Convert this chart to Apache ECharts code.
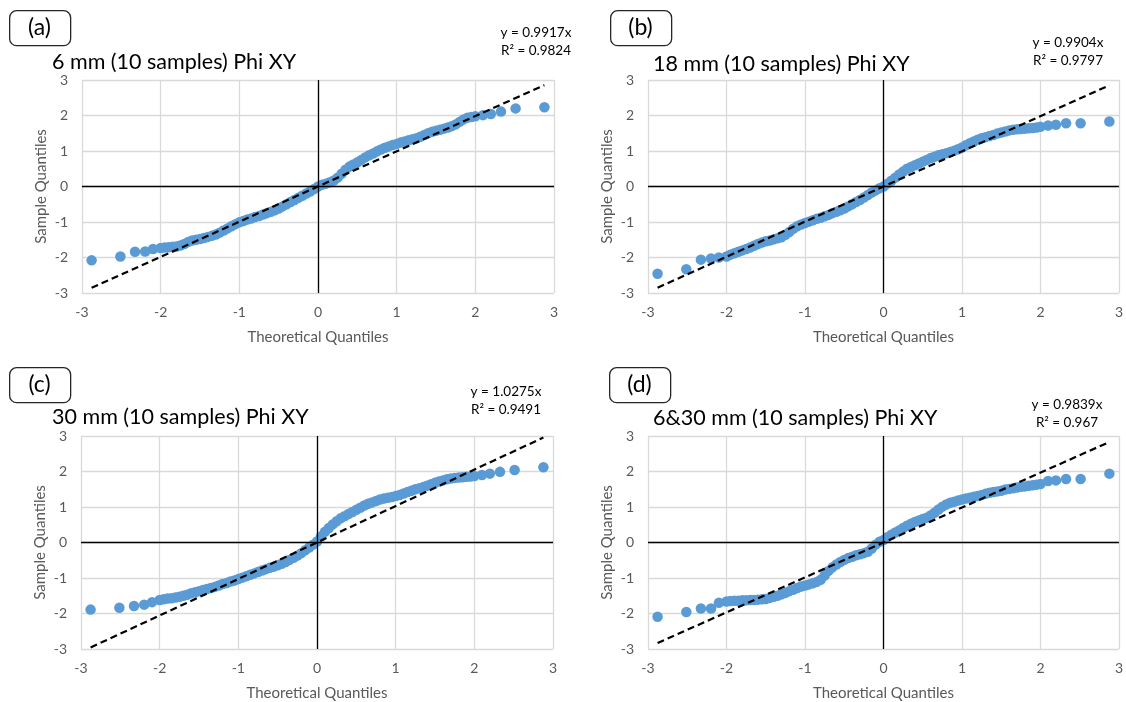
<!DOCTYPE html>
<html>
<head>
<meta charset="utf-8">
<script src="https://cdn.jsdelivr.net/npm/echarts@6/dist/echarts.min.js"></script>
<style>
  html, body { margin: 0; padding: 0; background: #ffffff; }
  #chart { width: 1126px; height: 702px; }
</style>
</head>
<body>
<div id="chart"></div>
<script>
// Theoretical normal quantiles shared by all four Q-Q plots
const theoQ = [-2.878, -2.512, -2.326, -2.197, -2.097,
  -2.00, -1.95, -1.90, -1.85, -1.80, -1.75, -1.70, -1.65, -1.60, -1.55,
  -1.50, -1.45, -1.40, -1.35, -1.30, -1.25, -1.20, -1.15, -1.10, -1.05,
  -1.00, -0.95, -0.90, -0.85, -0.80, -0.75, -0.70, -0.65, -0.60, -0.55,
  -0.50, -0.45, -0.40, -0.35, -0.30, -0.25, -0.20, -0.15, -0.10, -0.05,
  0.00, 0.05, 0.10, 0.15, 0.20, 0.25, 0.30, 0.35, 0.40, 0.45,
  0.50, 0.55, 0.60, 0.65, 0.70, 0.75, 0.80, 0.85, 0.90, 0.95,
  1.00, 1.05, 1.10, 1.15, 1.20, 1.25, 1.30, 1.35, 1.40, 1.45,
  1.50, 1.55, 1.60, 1.65, 1.70, 1.75, 1.80, 1.85, 1.90, 1.95,
  2.00,
  2.097, 2.197, 2.326, 2.512, 2.878];

// Sample quantiles, one list per sample set
const sample6mm = [-2.08, -1.97, -1.84, -1.83, -1.76,
  -1.73, -1.72, -1.71, -1.70, -1.69, -1.66, -1.62, -1.56, -1.52, -1.50,
  -1.48, -1.45, -1.42, -1.39, -1.35, -1.30, -1.24, -1.18, -1.12, -1.06,
  -1.01, -0.97, -0.93, -0.90, -0.86, -0.83, -0.79, -0.75, -0.71, -0.67,
  -0.62, -0.56, -0.50, -0.44, -0.38, -0.32, -0.26, -0.20, -0.14, -0.07,
  0.00, 0.05, 0.08, 0.12, 0.17, 0.25, 0.36, 0.47, 0.56, 0.62,
  0.68, 0.75, 0.82, 0.88, 0.93, 0.99, 1.04, 1.09, 1.13, 1.17,
  1.20, 1.24, 1.27, 1.30, 1.33, 1.36, 1.40, 1.45, 1.50, 1.54,
  1.57, 1.60, 1.63, 1.66, 1.70, 1.75, 1.82, 1.89, 1.94, 1.96,
  1.98,
  2.01, 2.04, 2.11, 2.20, 2.23];

const sample18mm = [-2.46, -2.33, -2.06, -2.03, -2.00,
  -1.97, -1.92, -1.88, -1.84, -1.80, -1.76, -1.72, -1.67, -1.62, -1.58,
  -1.54, -1.52, -1.49, -1.46, -1.43, -1.36, -1.28, -1.19, -1.12, -1.07,
  -1.03, -0.99, -0.95, -0.91, -0.88, -0.84, -0.80, -0.75, -0.71, -0.67,
  -0.62, -0.56, -0.50, -0.44, -0.38, -0.31, -0.24, -0.17, -0.11, -0.05,
  0.00, 0.08, 0.16, 0.25, 0.34, 0.42, 0.50, 0.55, 0.60, 0.65,
  0.70, 0.75, 0.80, 0.84, 0.88, 0.91, 0.94, 0.97, 1.01, 1.05,
  1.10, 1.16, 1.22, 1.27, 1.32, 1.36, 1.39, 1.42, 1.45, 1.49,
  1.52, 1.55, 1.58, 1.60, 1.61, 1.62, 1.63, 1.64, 1.65, 1.66,
  1.68,
  1.72, 1.74, 1.78, 1.78, 1.83];

const sample30mm = [-1.89, -1.84, -1.79, -1.75, -1.68,
  -1.62, -1.60, -1.58, -1.57, -1.55, -1.53, -1.50, -1.47, -1.43, -1.40,
  -1.37, -1.34, -1.31, -1.28, -1.25, -1.21, -1.17, -1.14, -1.10, -1.07,
  -1.03, -0.99, -0.95, -0.91, -0.87, -0.83, -0.79, -0.75, -0.71, -0.68,
  -0.64, -0.60, -0.55, -0.49, -0.43, -0.37, -0.30, -0.22, -0.14, -0.06,
  0.03, 0.17, 0.30, 0.41, 0.51, 0.60, 0.68, 0.74, 0.80, 0.86,
  0.92, 0.98, 1.04, 1.09, 1.13, 1.17, 1.21, 1.24, 1.26, 1.28,
  1.31, 1.34, 1.38, 1.42, 1.46, 1.50, 1.53, 1.56, 1.60, 1.64,
  1.68, 1.72, 1.75, 1.78, 1.80, 1.82, 1.83, 1.84, 1.85, 1.86,
  1.87,
  1.90, 1.94, 1.99, 2.04, 2.12];

const sample6and30mm = [-2.09, -1.96, -1.86, -1.86, -1.70,
  -1.66, -1.65, -1.64, -1.64, -1.63, -1.63, -1.62, -1.62, -1.61, -1.60,
  -1.59, -1.56, -1.53, -1.50, -1.46, -1.42, -1.37, -1.33, -1.28, -1.24,
  -1.21, -1.18, -1.15, -1.11, -1.05, -0.93, -0.80, -0.70, -0.62, -0.55,
  -0.49, -0.44, -0.40, -0.36, -0.33, -0.30, -0.26, -0.17, -0.06, 0.02,
  0.07, 0.15, 0.22, 0.28, 0.34, 0.41, 0.47, 0.53, 0.58, 0.62,
  0.66, 0.70, 0.76, 0.84, 0.93, 1.01, 1.07, 1.12, 1.15, 1.18,
  1.21, 1.24, 1.26, 1.29, 1.31, 1.34, 1.37, 1.40, 1.42, 1.44,
  1.46, 1.49, 1.51, 1.53, 1.55, 1.57, 1.58, 1.60, 1.61, 1.63,
  1.65,
  1.73, 1.75, 1.79, 1.79, 1.94];

const panelTags = ['(a)', '(b)', '(c)', '(d)'];
const panelTitles = ['6 mm (10 samples) Phi XY', '18 mm (10 samples) Phi XY',
  '30 mm (10 samples) Phi XY', '6&30 mm (10 samples) Phi XY'];
const fitSlopes = [0.9917, 0.9904, 1.0275, 0.9839];
const fitR2 = [0.9824, 0.9797, 0.9491, 0.967];
const axisMin = -3, axisMax = 3, axisStep = 1;

const samples = [sample6mm, sample18mm, sample30mm, sample6and30mm];

// Panel layout
const FONT = 'Lato, "Open Sans", sans-serif';
const TEXT_GREY = '#595959';
const grids = [
  { left: 82, top: 80, width: 472, height: 213 },
  { left: 648, top: 80, width: 471, height: 213 },
  { left: 81, top: 436, width: 472, height: 213 },
  { left: 648, top: 436, width: 471, height: 213 }
];
const tagBoxPos = [[9, 10], [610, 10], [9, 367], [609, 367]];
const titlePos = [[52, 62], [653, 64], [52, 417], [653, 418]];
const eqPos = [[536, 33], [1068, 43], [506, 392], [1067, 405]];

const xAxes = [], yAxes = [], series = [], graphics = [];

samples.forEach((ys, i) => {
  xAxes.push({
    type: 'value', gridIndex: i, min: axisMin, max: axisMax, interval: axisStep,
    name: 'Theoretical Quantiles', nameLocation: 'middle', nameGap: 37,
    nameTextStyle: { fontFamily: FONT, fontSize: 15, color: TEXT_GREY },
    axisLine: { show: false }, axisTick: { show: false },
    axisLabel: { margin: 12, fontFamily: FONT, fontSize: 14, color: TEXT_GREY },
    splitLine: { show: true, lineStyle: { color: '#d9d9d9', width: 1.3 } }
  });
  yAxes.push({
    type: 'value', gridIndex: i, min: axisMin, max: axisMax, interval: axisStep,
    name: 'Sample Quantiles', nameLocation: 'middle', nameGap: 33,
    nameTextStyle: { fontFamily: FONT, fontSize: 15, color: TEXT_GREY },
    axisLine: { show: false }, axisTick: { show: false },
    axisLabel: { margin: 14, fontFamily: FONT, fontSize: 14, color: TEXT_GREY },
    splitLine: { show: true, lineStyle: { color: '#d9d9d9', width: 1.3 } }
  });

  // Zero axes crossing at the origin
  series.push({
    type: 'line', xAxisIndex: i, yAxisIndex: i, data: [], z: 1, silent: true,
    markLine: {
      silent: true, symbol: ['none', 'none'], animation: false,
      label: { show: false },
      lineStyle: { color: '#000000', width: 1.3, type: 'solid' },
      data: [{ xAxis: 0 }, { yAxis: 0 }]
    }
  });

  // Sample points
  series.push({
    type: 'scatter', xAxisIndex: i, yAxisIndex: i, z: 3,
    symbol: 'circle', symbolSize: 10.5,
    itemStyle: { color: '#5b9bd5', opacity: 1 },
    data: theoQ.map((x, k) => [x, ys[k]])
  });

  // Linear fit through the origin
  const x0 = theoQ[0], x1 = theoQ[theoQ.length - 1];
  series.push({
    type: 'line', xAxisIndex: i, yAxisIndex: i, z: 4,
    showSymbol: false, symbol: 'none', silent: true,
    lineStyle: { color: '#000000', width: 2.2, type: [7, 4] },
    data: [[x0, fitSlopes[i] * x0], [x1, fitSlopes[i] * x1]]
  });

  // Panel tag box
  graphics.push({
    type: 'rect', left: tagBoxPos[i][0], top: tagBoxPos[i][1],
    shape: { width: 61, height: 35, r: 7 },
    style: { fill: '#ffffff', stroke: '#262626', lineWidth: 1.3 }
  });
  graphics.push({
    type: 'text', x: tagBoxPos[i][0] + 30.5, y: tagBoxPos[i][1] + 18,
    style: { text: panelTags[i], font: '23px ' + FONT, fill: '#000000',
      textAlign: 'center', textVerticalAlign: 'middle' }
  });
  // Panel title
  graphics.push({
    type: 'text', x: titlePos[i][0], y: titlePos[i][1],
    style: { text: panelTitles[i], font: '21.5px ' + FONT, fill: '#000000',
      textAlign: 'left', textVerticalAlign: 'middle' }
  });
  // Fit equation
  graphics.push({
    type: 'text', x: eqPos[i][0], y: eqPos[i][1],
    style: { text: 'y = ' + fitSlopes[i] + 'x', font: '13.5px ' + FONT, fill: '#000000',
      textAlign: 'center', textVerticalAlign: 'middle' }
  });
  graphics.push({
    type: 'text', x: eqPos[i][0], y: eqPos[i][1] + 18,
    style: { text: 'R\u00B2 = ' + fitR2[i], font: '13.5px ' + FONT, fill: '#000000',
      textAlign: 'center', textVerticalAlign: 'middle' }
  });
});

const chart = echarts.init(document.getElementById('chart'), null, { renderer: 'canvas' });
chart.setOption({
  animation: false,
  backgroundColor: '#ffffff',
  grid: grids.map(g => Object.assign({ containLabel: false }, g)),
  xAxis: xAxes,
  yAxis: yAxes,
  series: series,
  graphic: graphics
});
</script>
</body>
</html>
